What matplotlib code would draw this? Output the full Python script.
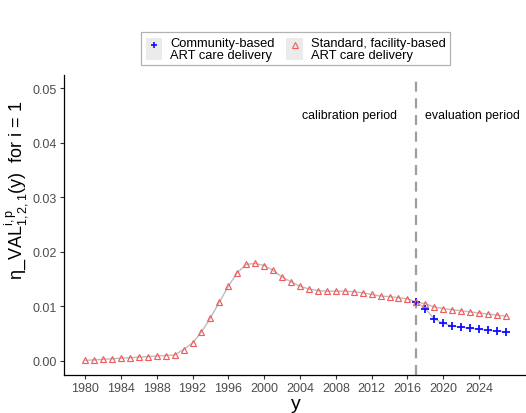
import numpy as np
import matplotlib
matplotlib.use("Agg")
import matplotlib.pyplot as plt
from matplotlib.patches import Rectangle
from matplotlib.lines import Line2D
from matplotlib.legend_handler import HandlerTuple

plt.rcParams["font.family"] = ["Liberation Sans", "DejaVu Sans"]
plt.rcParams["mathtext.fontset"] = "custom"
plt.rcParams["mathtext.rm"] = "Liberation Sans"
plt.rcParams["mathtext.it"] = "Liberation Sans"

# Standard, facility-based delivery: 1980-2027
years_std = list(range(1980, 2028))
vals_std = [0.0001, 0.0002, 0.0003, 0.0004, 0.0005, 0.0006, 0.0007, 0.0008,
            0.0009, 0.0010, 0.0011, 0.0021, 0.0033, 0.0053, 0.0079, 0.0108,
            0.0137, 0.0162, 0.0177, 0.0179, 0.0175, 0.0166, 0.0154, 0.0145,
            0.0137, 0.0132, 0.0129, 0.0128, 0.0128, 0.0128, 0.0127, 0.0125,
            0.0122, 0.0119, 0.0118, 0.0116, 0.0114, 0.0108, 0.0105, 0.0099,
            0.0096, 0.0094, 0.0092, 0.0090, 0.0088, 0.0086, 0.0084, 0.0082]

# Community-based delivery: 2017-2027
years_com = list(range(2017, 2028))
vals_com = [0.0108, 0.0096, 0.0077, 0.0069, 0.0064, 0.0062, 0.0060, 0.0058,
            0.0056, 0.0055, 0.0053]

split_year = 2017
xticks = list(range(1980, 2025, 4))
yticks = [0.00, 0.01, 0.02, 0.03, 0.04, 0.05]

W, H = 526, 414
fig = plt.figure(figsize=(W / 100, H / 100), dpi=100)
ax = fig.add_axes([64 / W, 1 - 375.6 / H, (527 - 64) / W, (375.6 - 75.7) / H])

line_col = "#BDBDBD"
red = "#F25C5C"
blue = "#1010FF"

ax.plot(years_com, vals_com, color=line_col, lw=1.0, zorder=1)
ax.plot(years_std, vals_std, color=line_col, lw=1.0, zorder=1)
ax.plot(years_com, vals_com, ls="none", marker="+", ms=5.5, mew=1.3,
        color=blue, zorder=2)
ax.plot(years_std, vals_std, ls="none", marker="^", ms=4.4, mew=0.85,
        mfc="none", mec=red, zorder=3)

ax.axvline(split_year, color="#9E9E9E", lw=1.6, ls=(0, (4.5, 3)), zorder=0)

ax.text(2009.5, 0.0451, "calibration period", ha="center", va="center",
        fontsize=8.9, color="black")
ax.text(2023.3, 0.0451, "evaluation period", ha="center", va="center",
        fontsize=8.9, color="black")

span = 2027 - 1980
ax.set_xlim(1980 - 0.05 * span, 2027 + 0.05 * span)
ax.set_ylim(-0.0025, 0.0525)
ax.set_xticks(xticks)
ax.set_yticks(yticks)
ax.set_yticklabels([f"{v:.2f}" for v in yticks])

for s in ["top", "right"]:
    ax.spines[s].set_visible(False)
for s in ["left", "bottom"]:
    ax.spines[s].set_color("black")
    ax.spines[s].set_linewidth(0.9)
ax.tick_params(axis="both", colors="#333333", labelcolor="#4D4D4D",
               labelsize=9.0, length=3, width=0.8, pad=2)

ax.set_xlabel("y", fontsize=14, labelpad=1)
ax.set_ylabel(r"η_VAL$^{\mathrm{i,p}}_{\mathrm{1,2,1}}$(y)  for i = 1",
              fontsize=13)
ax.yaxis.set_label_coords(-0.071, (375.6 - 190) / (375.6 - 75.7))

key_bg = "#EBEBEB"
h_com = (Rectangle((0, 0), 1, 1, fc=key_bg, ec="none"),
         Line2D([], [], ls="none", marker="+", ms=5, mew=1.2, color=blue))
h_std = (Rectangle((0, 0), 1, 1, fc=key_bg, ec="none"),
         Line2D([], [], ls="none", marker="^", ms=4.2, mew=0.8, mfc="none",
                mec=red))
leg = fig.legend([h_com, h_std],
                 ["Community-based\nART care delivery",
                  "Standard, facility-based\nART care delivery"],
                 handler_map={tuple: HandlerTuple(ndivide=1, pad=0)},
                 loc="center", bbox_to_anchor=(295.5 / W, 1 - 49.5 / H),
                 ncol=2, fontsize=9.3, frameon=True, fancybox=False,
                 handlelength=1.3, handleheight=2.3, handletextpad=0.6,
                 columnspacing=0.9, borderpad=0.35, borderaxespad=0)
leg.get_frame().set_edgecolor("#A0A0A0")
leg.get_frame().set_linewidth(0.9)
for t in leg.get_texts():
    t.set_linespacing(1.0)

fig.savefig("out.png", dpi=100)
